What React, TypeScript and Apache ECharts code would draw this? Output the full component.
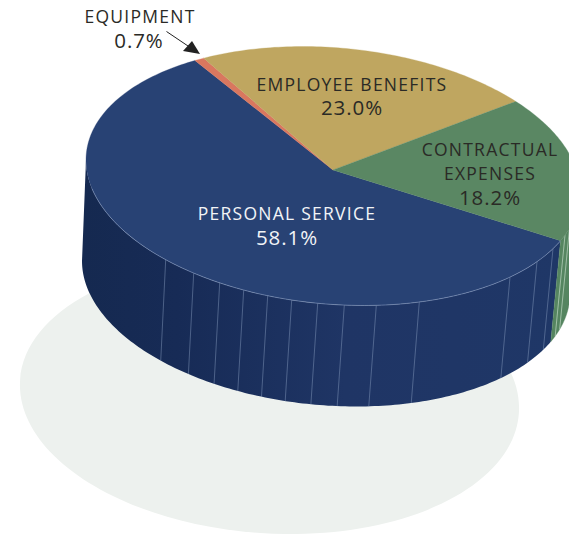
import React, { useEffect, useRef } from "react";
import * as echarts from "echarts";

// ---- data ----
const categories = ["PERSONAL SERVICE", "EQUIPMENT", "EMPLOYEE BENEFITS", "CONTRACTUAL EXPENSES"];
const sliceValues = [58.1, 0.7, 23.0, 18.2];
const percentLabels = ["58.1%", "0.7%", "23.0%", "18.2%"];

// ---- styling and geometry of the tilted disc ----
const topColors = ["#284274", "#d9775f", "#bfa660", "#5a8763"];
const START_DEG = 25.3;
const APEX = { x: 333, y: 170 };
const TOP = { cx: 333, cy: 176, ux: 247, uy: 16, vy: 128.5 };
const BOTTOM = { cx: 326, cy: 277, ux: 244, uy: 16, vy: 128.5 };
const BLUE_SEAM_RIM_X = [165.7, 193.7, 219.7, 243.7, 267.7, 291.7, 317.7, 344.3, 376.3, 419.3, 510, 537, 553];
const GREEN_SEAM_RIM_X = [565, 569.5];
const LABEL_FONT = '"Open Sans", sans-serif';

const ellipsePoint = (e: typeof TOP, t: number) => [
  e.cx + e.ux * Math.cos(t),
  e.cy + e.uy * Math.cos(t) + e.vy * Math.sin(t),
];

// Ray from the apex of the slices, at disc angle theta, to the rim: returns the ellipse parameter there.
const rimParam = (theta: number) => {
  const ay = (APEX.y - TOP.cy - (TOP.uy * (APEX.x - TOP.cx)) / TOP.ux) / TOP.vy;
  const ax = (APEX.x - TOP.cx) / TOP.ux;
  const dx = Math.cos(theta);
  const dy = Math.sin(theta);
  const b = ax * dx + ay * dy;
  const c = ax * ax + ay * ay - 1;
  const s = -b + Math.sqrt(b * b - c);
  return Math.atan2(ay + s * dy, ax + s * dx);
};

const total = sliceValues.reduce((a, b) => a + b, 0);
const boundaries: number[] = [];
{
  let acc = (START_DEG * Math.PI) / 180;
  boundaries.push(acc);
  sliceValues.forEach((v) => {
    acc += (v / total) * Math.PI * 2;
    boundaries.push(acc);
  });
}
const sliceRange = (i: number) => {
  const a = rimParam(boundaries[i]);
  let b = rimParam(boundaries[i + 1]);
  while (b < a) b += Math.PI * 2;
  return [a, b];
};

const arc = (e: typeof TOP, a: number, b: number) => {
  const n = Math.max(2, Math.ceil(((b - a) * 180) / Math.PI));
  const pts: number[][] = [];
  for (let k = 0; k <= n; k++) pts.push(ellipsePoint(e, a + ((b - a) * k) / n));
  return pts;
};

const seamLine = (rimX: number, color: string) => {
  const t = Math.acos((rimX - TOP.cx) / TOP.ux);
  const p = ellipsePoint(TOP, t);
  const q = ellipsePoint(BOTTOM, t);
  return {
    type: "line",
    shape: { x1: p[0], y1: p[1], x2: q[0], y2: q[1] },
    style: { stroke: color, lineWidth: 0.8 },
    silent: true,
  };
};

const renderWall = (params: any) => {
  const i = params.dataIndex;
  if (i !== 0 && i !== 3) return { type: "group", children: [] };
  let [a, b] = sliceRange(i);
  // only the front half of the drum is a visible wall
  if (i === 0) b = Math.min(b, Math.PI);
  if (i === 3) {
    const end = b > Math.PI ? b - Math.PI * 2 : b;
    b = end;
    a = 0;
  }
  const poly = arc(TOP, a, b).concat(arc(BOTTOM, a, b).reverse());
  const fill =
    i === 0
      ? new echarts.graphic.LinearGradient(0, 0, 1, 0, [
          { offset: 0, color: "#152950" },
          { offset: 0.2, color: "#172b56" },
          { offset: 0.55, color: "#1f3565" },
          { offset: 1, color: "#1f3767" },
        ])
      : "#558560";
  const children: any[] = [
    { type: "polygon", shape: { points: poly }, style: { fill, stroke: i === 0 ? undefined : "#558560", lineWidth: 0.4 }, silent: true },
  ];
  if (i === 0) BLUE_SEAM_RIM_X.forEach((x) => children.push(seamLine(x, "rgba(135,155,190,0.6)")));
  else GREEN_SEAM_RIM_X.forEach((x) => children.push(seamLine(x, "rgba(195,220,200,0.85)")));
  return { type: "group", children };
};

const renderTop = (params: any) => {
  const i = params.dataIndex;
  const [a, b] = sliceRange(i);
  const pts = [[APEX.x, APEX.y], ...arc(TOP, a, b)];
  const children: any[] = [
    { type: "polygon", shape: { points: pts }, style: { fill: topColors[i], stroke: topColors[i], lineWidth: 0.3 }, silent: true },
  ];
  if (i === 0) {
    children.push({
      type: "polyline",
      shape: { points: arc(TOP, a, Math.PI * 0.93) },
      style: { fill: "none", stroke: "rgba(140,160,195,0.7)", lineWidth: 0.8 },
      silent: true,
    });
  }
  return { type: "group", children };
};

const text = (str: string, x: number, y: number, size: number, fill: string) => ({
  type: "text",
  x,
  y,
  z: 50,
  silent: true,
  style: { text: str, fill, font: `${size}px ${LABEL_FONT}`, textAlign: "center", textVerticalAlign: "middle" },
});

export default function App() {
  const ref = useRef<HTMLDivElement>(null);
  useEffect(() => {
    document.body.style.margin = "0";
    const chart = echarts.init(ref.current!, undefined, { renderer: "svg" });
    const dark = "#2a2a26";
    chart.setOption({
      animation: false,
      backgroundColor: "#ffffff",
      series: [
        { type: "custom", coordinateSystem: "none", z: 2, silent: true, renderItem: renderWall, data: sliceValues },
        { type: "custom", coordinateSystem: "none", z: 3, silent: true, renderItem: renderTop, data: sliceValues },
      ],
      graphic: [
        {
          type: "ellipse",
          x: 269.5,
          y: 396.5,
          rotation: -0.0658,
          z: -1,
          silent: true,
          shape: { cx: 0, cy: 0, rx: 249.9, ry: 136.8 },
          style: { fill: "#edf1ee" },
        },
        text(categories[0], 287, 213, 17.5, "#f2f4f7"),
        text(percentLabels[0], 287, 236.5, 20.5, "#f2f4f7"),
        text(categories[1], 140, 16, 17.5, dark),
        text(percentLabels[1], 139, 40, 20.5, dark),
        text(categories[2], 352, 83.5, 17.5, dark),
        text(percentLabels[2], 352, 107, 20.5, dark),
        text("CONTRACTUAL", 490, 149, 17.5, dark),
        text("EXPENSES", 490, 173, 17.5, dark),
        text(percentLabels[3], 490, 196.5, 20.5, dark),
        {
          type: "line",
          z: 50,
          silent: true,
          shape: { x1: 166.5, y1: 31.5, x2: 188, y2: 46 },
          style: { stroke: "#222222", lineWidth: 1 },
        },
        {
          type: "polygon",
          z: 50,
          silent: true,
          shape: { points: [[200, 54], [183, 51], [192, 41]] },
          style: { fill: "#222222" },
        },
      ],
    });
    chart.getZr().flush();
    ref.current!.querySelectorAll("text").forEach((el) => {
      const s = el.textContent || "";
      if (/^[A-Z ]+$/.test(s)) el.setAttribute("letter-spacing", "1.25");
      else if (s.endsWith("%")) el.setAttribute("letter-spacing", "0.9");
    });
    return () => chart.dispose();
  }, []);
  return <div ref={ref} style={{ width: 569, height: 534, overflow: "hidden" }} />;
}
